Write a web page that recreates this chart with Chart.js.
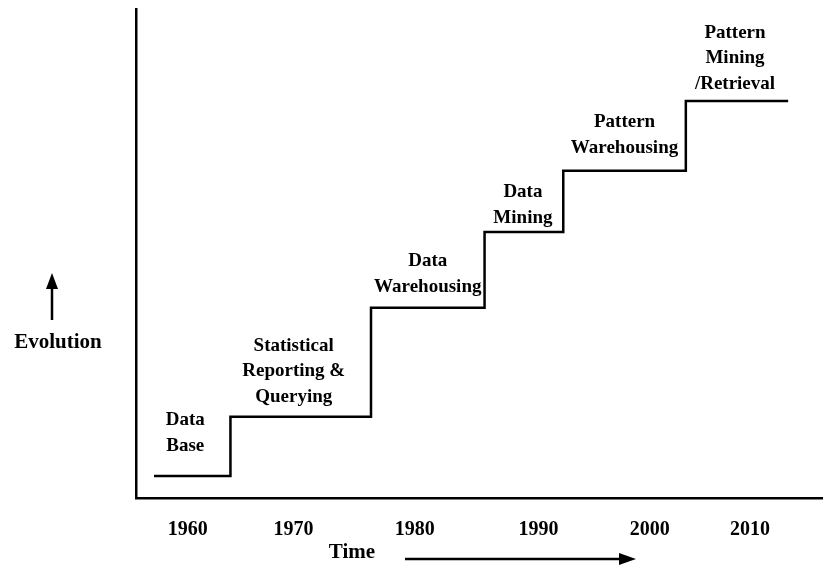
<!DOCTYPE html>
<html>
<head>
<meta charset="utf-8">
<script src="https://cdn.jsdelivr.net/npm/chart.js@4"></script>
<style>
  html, body { margin: 0; padding: 0; background: #fff; }
  #wrap { width: 823px; height: 565px; position: relative; }
</style>
</head>
<body>
<div id="wrap"><canvas id="evo"></canvas></div>
<script>
// stage boundaries (year where each step rises) and evolution level of each stage
const stepYears = [1957.0, 1963.8, 1976.3, 1986.4, 1993.4, 2004.3, 2013.4];
const stepLevels = [0.45, 1.66, 3.89, 5.44, 6.69, 8.12, 8.12];

// printed decade labels and where they sit along the time axis
const tickLabels = ["1960", "1970", "1980", "1990", "2000", "2010"];
const tickAt = [1960, 1969.4, 1980.2, 1991.2, 2001.1, 2010];

// text over each stage
const stageNames = [
  ["Data", "Base"],
  ["Statistical", "Reporting &", "Querying"],
  ["Data", "Warehousing"],
  ["Data", "Mining"],
  ["Pattern", "Warehousing"],
  ["Pattern", "Mining", "/Retrieval"]
];

const SERIF = "'Liberation Serif', 'Times New Roman', serif";

// small per-label tweaks (px): horizontal shift, gap above the step
const labelNudge = [
  { dx: -7, gap: 30 },
  { dx: -7, gap: 20 },
  { dx: 0, gap: 21 },
  { dx: -1, gap: 14 },
  { dx: 0, gap: 23 },
  { dx: -2, gap: 17 }
];

const points = stepYears.map((x, i) => ({ x: x, y: stepLevels[i] }));

const annotate = {
  id: "annotate",
  afterDraw(chart) {
    const ctx = chart.ctx;
    const xs = chart.scales.x;
    const ys = chart.scales.y;
    ctx.save();
    ctx.fillStyle = "#000";
    ctx.strokeStyle = "#000";
    ctx.textAlign = "center";
    ctx.textBaseline = "middle";

    // stage labels
    ctx.font = "bold 19px " + SERIF;
    const lineH = 25.5;
    stageNames.forEach((lines, i) => {
      const cx = (xs.getPixelForValue(stepYears[i]) + xs.getPixelForValue(stepYears[i + 1])) / 2 + labelNudge[i].dx;
      const base = ys.getPixelForValue(stepLevels[i]) - labelNudge[i].gap;
      lines.forEach((t, j) => {
        ctx.fillText(t, cx, base - (lines.length - 1 - j) * lineH);
      });
    });

    // axis titles with arrows
    ctx.font = "bold 21px " + SERIF;
    ctx.fillText("Evolution", 58, 343);
    ctx.fillText("Time", 352, 553);

    ctx.lineWidth = 2.5;
    ctx.beginPath();
    ctx.moveTo(52, 320);
    ctx.lineTo(52, 285);
    ctx.stroke();
    ctx.beginPath();
    ctx.moveTo(52, 273);
    ctx.lineTo(46, 289);
    ctx.lineTo(58, 289);
    ctx.closePath();
    ctx.fill();

    ctx.beginPath();
    ctx.moveTo(405, 559);
    ctx.lineTo(622, 559);
    ctx.stroke();
    ctx.beginPath();
    ctx.moveTo(636, 559);
    ctx.lineTo(619, 553);
    ctx.lineTo(619, 565);
    ctx.closePath();
    ctx.fill();
    ctx.restore();
  }
};

new Chart(document.getElementById("evo").getContext("2d"), {
  type: "line",
  data: {
    datasets: [
      {
        data: points,
        borderColor: "#000",
        borderWidth: 2.5,
        stepped: "before",
        pointRadius: 0,
        fill: false
      }
    ]
  },
  options: {
    responsive: true,
    maintainAspectRatio: false,
    animation: false,
    layout: { padding: { left: 136, top: 9, right: 0, bottom: 3 } },
    plugins: {
      legend: { display: false },
      tooltip: { enabled: false }
    },
    scales: {
      x: {
        type: "linear",
        min: 1955.4,
        max: 2016.5,
        grid: { display: false, drawTicks: false },
        border: { display: true, color: "#000", width: 2.5 },
        afterBuildTicks: (scale) => {
          scale.ticks = tickAt.map((v) => ({ value: v }));
        },
        ticks: {
          padding: 20,
          color: "#000",
          maxRotation: 0,
          autoSkip: false,
          font: { family: SERIF, size: 20, weight: "bold" },
          callback: (value, index) => tickLabels[index]
        }
      },
      y: {
        min: 0,
        max: 10,
        grid: { display: false, drawTicks: false },
        border: { display: true, color: "#000", width: 2.5 },
        ticks: { display: false }
      }
    }
  },
  plugins: [annotate]
});
</script>
</body>
</html>
